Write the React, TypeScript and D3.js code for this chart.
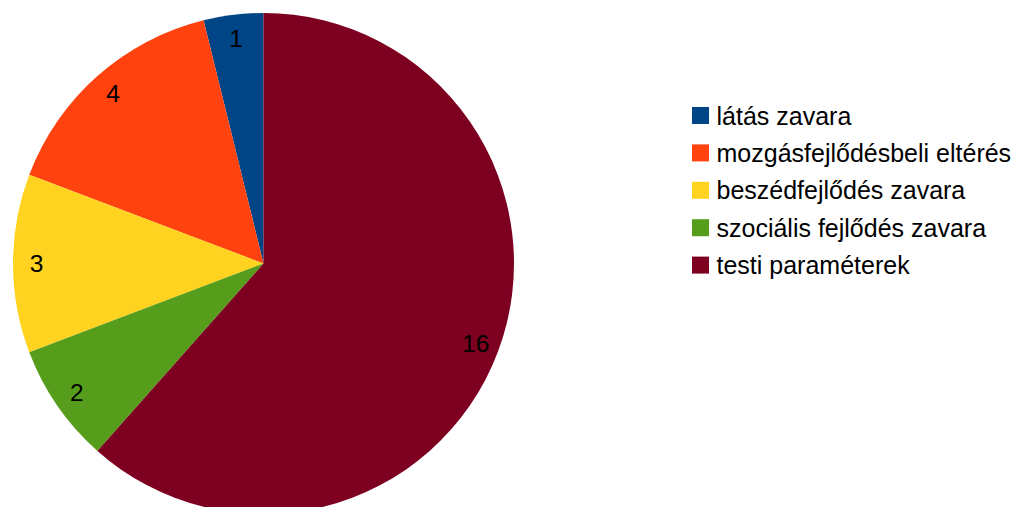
import React from "react";
import * as d3 from "d3";

const categories = ["látás zavara", "mozgásfejlődésbeli eltérés", "beszédfejlődés zavara", "szociális fejlődés zavara", "testi paraméterek"];
const values = [1, 4, 3, 2, 16];
const colors = ["#004586", "#ff420e", "#ffd320", "#579d1c", "#7e0021"];

export default function App() {
  const W = 1030, H = 507;
  const cx = 263.5, cy = 263.5, r = 250.5;
  const pie = d3.pie<number>().sort(null).startAngle(0).endAngle(-2 * Math.PI);
  const arcs = pie(values);
  const arc = d3.arc<d3.PieArcDatum<number>>().innerRadius(0).outerRadius(r);
  const labelR = 227;
  return (
    <svg width={W} height={H} style={{ position: "absolute", left: 0, top: 0, background: "#fff" }}
      fontFamily="'Liberation Sans', Arial, sans-serif">
      <g transform={`translate(${cx},${cy})`}>
        {arcs.map((a, i) => (
          <path key={i} d={arc(a) as string} fill={colors[i]} />
        ))}
        {arcs.map((a, i) => {
          const m = (a.startAngle + a.endAngle) / 2;
          const x = labelR * Math.sin(m);
          const y = -labelR * Math.cos(m);
          return (
            <text key={i} x={x} y={y} fontSize={24.5} textAnchor="middle" dominantBaseline="central" fill="#000">
              {values[i]}
            </text>
          );
        })}
      </g>
      <g>
        {categories.map((c, i) => (
          <g key={c} transform={`translate(692,${115.5 + i * 37.4})`}>
            <rect x={0} y={-8.5} width={17} height={17} fill={colors[i]} />
            <text x={24.5} y={0} fontSize={25} dominantBaseline="central" fill="#000">{c}</text>
          </g>
        ))}
      </g>
    </svg>
  );
}
